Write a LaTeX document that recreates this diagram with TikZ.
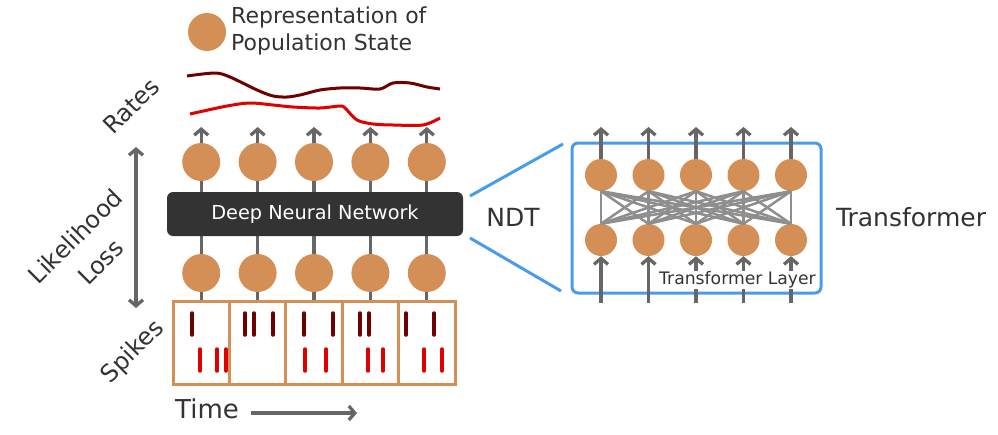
\documentclass[tikz,border=0pt]{standalone}
\usepackage{fontspec}
\setmainfont{DejaVu Sans}
\usetikzlibrary{arrows.meta}
\definecolor{state}{HTML}{D38F55}
\definecolor{ink}{HTML}{333333}
\definecolor{arrowgray}{HTML}{666666}
\definecolor{meshgray}{HTML}{8E8E8E}
\definecolor{zoomblue}{HTML}{4A9BEA}
\definecolor{spikedark}{HTML}{6E0000}
\definecolor{spikered}{HTML}{E00000}

\begin{document}
\begin{tikzpicture}[x=1pt,y=-1pt,
  unit/.style={circle,fill=state,inner sep=0pt,minimum size=38pt},
  smallunit/.style={circle,fill=state,inner sep=0pt,minimum size=32pt},
  flow/.style={arrowgray,line width=3.3pt},
  flowarr/.style={flow,-{Straight Barb[length=6pt,width=14pt]}},
  bin/.style={draw=state,line width=3pt,minimum width=56.4pt,minimum height=83pt,inner sep=0pt},
  spike/.style={line width=3.5pt,line cap=round},
  mesh/.style={meshgray,line width=2.5pt},
  zoomline/.style={zoomblue,line width=3pt},
  lbl/.style={text=ink,font=\fontsize{24}{32}\selectfont}]
\useasboundingbox (0,0) rectangle (998,434);

% legend
\node[unit] (legend) at (207,32) {};
\node[lbl,font=\fontsize{22}{27}\selectfont,anchor=west,align=left,inner sep=0pt] (legendtext) at (231,31) {Representation of\\Population State};

% rates
\draw[spikedark,line width=3pt] plot[smooth,tension=0.5] coordinates {(187,76) (215,73) (230,77) (257,90) (273,96) (287,97) (300,95) (320,90) (340,88) (360,88) (380,89) (393,83) (410,83) (427,87) (440,89)};
\draw[spikered,line width=3pt] plot[smooth,tension=0.5] coordinates {(190,114) (227,106) (250,103) (273,105) (293,107) (320,108) (340,106) (345,108) (357,120) (373,124) (393,125) (423,125) (440,118)};

% left network
\foreach \i in {1,...,5} {
  \pgfmathsetmacro\xc{173+56.4*(\i-0.5)}
  \node[bin] (bin\i) at (\xc,342.5) {};
  \node[unit] (low\i) at (\xc,273) {};
  \node[unit] (high\i) at (\xc,162) {};
  \coordinate (out\i) at (\xc,127);
}
\foreach \i in {1,...,5} {
  \draw[flow] (bin\i.north) -- (low\i);
  \draw[flow] (low\i) -- (high\i);
  \draw[flowarr] (high\i) -- (out\i);
}
\node[rounded corners=6pt,fill=ink,minimum width=296pt,minimum height=44pt,text=white,font=\fontsize{19.3}{23}\selectfont] (dnn) at (315,214) {Deep Neural Network};

% spikes
\foreach \x in {192,245,254,273,304,333,360,369,406,434}
  \draw[spike,spikedark] (\x,313) -- (\x,335);
\foreach \x in {200,217,226,305,326,368,383,424,442}
  \draw[spike,spikered] (\x,349) -- (\x,371);

% side labels
\coordinate (losstop) at (136,147);
\coordinate (lossbot) at (136,308);
\draw[flow,{Straight Barb[length=6pt,width=14pt]}-{Straight Barb[length=6pt,width=14pt]}] (losstop) -- (lossbot);
\node[lbl,rotate=45] (rates) at (131,106) {Rates};
\node[lbl,font=\fontsize{24}{36}\selectfont,rotate=45,align=center] (loss) at (88,249) {Likelihood\\Loss};
\node[lbl,rotate=45] (spikes) at (133,352) {Spikes};
\node[lbl,font=\fontsize{26}{30}\selectfont] (time) at (207,409) {Time};
\coordinate (timestart) at (251,413);
\coordinate (timeend) at (357,413);
\draw[flowarr] (timestart) -- (timeend);

% zoom on the transformer
\node[draw=zoomblue,line width=3pt,rounded corners=6pt,minimum width=249pt,minimum height=150pt] (tbox) at (696.5,218) {};
\coordinate (dnnA) at (470,196);
\coordinate (dnnB) at (470,238);
\coordinate (boxA) at (563,144);
\coordinate (boxB) at (561,291);
\draw[zoomline] (dnnA) -- (boxA);
\draw[zoomline] (dnnB) -- (boxB);
\node[lbl,font=\fontsize{25}{30}\selectfont] (ndt) at (513,217) {NDT};
\node[lbl,font=\fontsize{25}{30}\selectfont] (trf) at (911,217) {Transformer};

\foreach \i in {1,...,5} {
  \pgfmathsetmacro\xr{601+47.5*(\i-1)}
  \node[smallunit] (tup\i) at (\xr,175) {};
  \node[smallunit] (tdown\i) at (\xr,240) {};
  \coordinate (tin\i) at (\xr,303);
  \coordinate (tout\i) at (\xr,127);
}
\foreach \i in {1,...,5}
  \foreach \j in {1,...,5}
    \draw[mesh] (tup\i.south) -- (tdown\j.north);
\foreach \i in {1,...,5} {
  \draw[flowarr] (tin\i) -- (tdown\i);
  \draw[flowarr] (tup\i) -- (tout\i);
}
\node[fill=white,text=ink,font=\fontsize{17.2}{20}\selectfont,inner sep=0.5pt] (layer) at (737.5,280) {Transformer Layer};
\end{tikzpicture}
\end{document}
